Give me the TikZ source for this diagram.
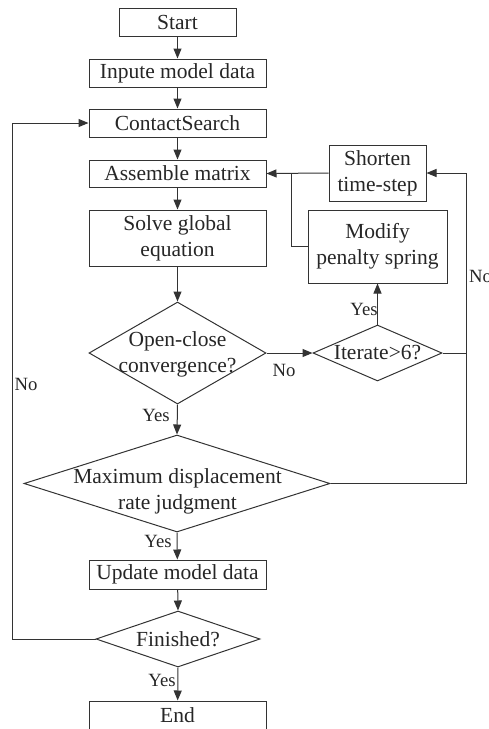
\documentclass[tikz,border=0pt]{standalone}
\usepackage{fontspec}
\setmainfont{Liberation Serif}
\usetikzlibrary{arrows.meta,shapes.geometric}

\begin{document}
\begin{tikzpicture}[
        x=1pt, y=-1pt,
        every node/.style={
            text=black!85
        },
        stepbox/.style={
            rectangle,
            draw=black!80,
            line width=1pt,
            minimum width=177pt,
            minimum height=28pt,
            inner sep=0pt,
            align=center,
            font=\fontsize{21.5}{26}\selectfont
        },
        judge/.style={
            diamond,
            draw=black!80,
            line width=1pt,
            inner sep=0pt
        },
        judgetext/.style={
            align=center,
            inner sep=0pt,
            font=\fontsize{21.5}{26}\selectfont
        },
        flow/.style={
            -{Triangle[length=10pt,width=8pt]},
            draw=black!80,
            line width=1pt
        },
        line/.style={
            draw=black!80,
            line width=1pt
        },
        answer/.style={
            inner sep=0pt,
            font=\fontsize{18.7}{22}\selectfont
        }
    ]
        \useasboundingbox (0,0) rectangle (489,729);

        % Main column
        \node[stepbox, minimum width=117pt] (start) at (177.5,22.5) {Start};
        \node[stepbox] (input) at (177.5,73) {Inpute model data};
        \node[stepbox] (search) at (177.5,123) {ContactSearch};
        \node[stepbox, minimum height=27pt] (assemble) at (177.5,173.5) {Assemble matrix};
        \node[stepbox, minimum height=56pt] (solve) at (177.5,238) {Solve global\\equation};

        \node[judge, minimum width=177pt, minimum height=102pt] (conv) at (177.5,353) {};
        \node[judgetext] (convtext) at (177.5,354) {Open-close\\convergence?};

        \node[judge, minimum width=306pt, minimum height=97pt] (maxd) at (177,483.5) {};
        \node[judgetext] (maxdtext) at (177.5,491) {Maximum displacement\\rate judgment};

        \node[stepbox, minimum height=29pt] (update) at (177.5,574.5) {Update model data};
        \node[judge, minimum width=164pt, minimum height=56pt] (finish) at (178,639) {};
        \node[judgetext] (finishtext) at (178,639) {Finished?};
        \node[stepbox] (end) at (177.5,715) {End};

        % Right branch
        \node[stepbox, minimum width=97pt, minimum height=56pt] (shorten) at (377.5,173) {Shorten\\time-step};
        \node[stepbox, minimum width=139pt, minimum height=73pt] (modify) at (377.5,246.5) {Modify\\penalty spring};
        \node[judge, minimum width=129pt, minimum height=56pt] (iterate) at (377.5,353) {};
        \node[judgetext] (iteratetext) at (377.5,353) {Iterate>6?};

        % Helper points
        \coordinate (join) at (291,173);
        \coordinate (rbus) at (466,483.5);
        \coordinate (lbus) at (12,639);

        % Connectors
        \draw[flow] (start) -- (input);
        \draw[flow] (input) -- (search);
        \draw[flow] (search) -- (assemble);
        \draw[flow] (assemble) -- (solve);
        \draw[flow] (solve) -- (conv.north);
        \draw[flow] (conv.south) -- (maxd.north);
        \draw[flow] (maxd.south) -- (update);
        \draw[flow] (update) -- (finish.north);
        \draw[flow] (finish.south) -- (end);

        \draw[flow] (conv.east) -- (iterate.west);
        \draw[flow] (iterate.north) -- (modify.south);
        \draw[flow] (shorten.west) -- (assemble.east);
        \draw[line] (modify.west) -| (join);
        \draw[flow] (maxd.east) -- (rbus) |- (shorten.east);
        \draw[line] (iterate.east) -- (iterate.east -| rbus);
        \draw[flow] (finish.west) -- (lbus) |- (search.west);

        % Answers
        \node[answer] (no1) at (284,370) {No};
        \node[answer] (yes1) at (364,309) {Yes};
        \node[answer, anchor=west] (no2) at (469,276) {No};
        \node[answer] (yes2) at (156,415) {Yes};
        \node[answer] (yes3) at (158,541) {Yes};
        \node[answer] (no3) at (26,384) {No};
        \node[answer] (yes4) at (162,680) {Yes};
    \end{tikzpicture}
\end{document}
